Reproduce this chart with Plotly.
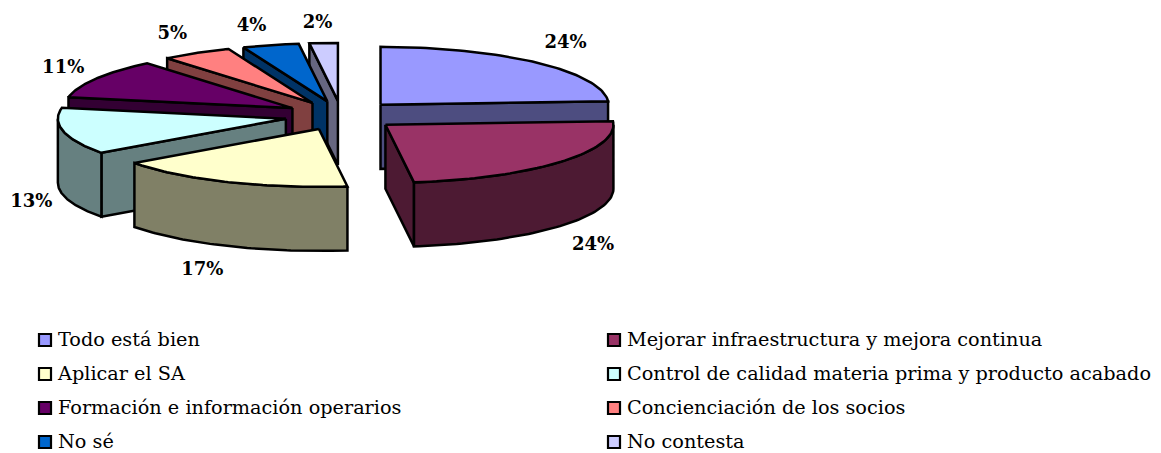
import math
import plotly.graph_objects as go

categories = ["Todo está bien", "Mejorar infraestructura y mejora continua", "Aplicar el SA",
              "Control de calidad materia prima y producto acabado", "Formación e información operarios",
              "Concienciación de los socios", "No sé", "No contesta"]
values = [24, 24, 17, 13, 11, 5, 4, 2]
top_colors = ["#9999FF", "#993366", "#FFFFCC", "#CCFFFF", "#660066", "#FF8080", "#0066CC", "#CCCCFF"]
side_colors = ["#4D4D80", "#4D1A33", "#808066", "#668080", "#330033", "#804040", "#003366", "#666680"]

# pie geometry, in page pixels
CX, CY = 341.5, 115.5
RX, RY = 228, 58
DEPTH = 64
EXP_X, EXP_Y = 57, 14.6
LABEL_OFFSET = [(29, -19), (32, 19.5), (-26, 24), (-32, 7), (-33, -10), (-24, -19), (-19, -19), (-6, -19.5)]
DRAW_ORDER = [0, 7, 6, 5, 4, 3, 2, 1]
EDGE = dict(color="black", width=2.5)
FONT = "DejaVu Serif"
LEGEND_X = [45, 614]
LEGEND_TEXT_GAP = 13
LEGEND_Y0, LEGEND_STEP = 340, 34

total = sum(values)
starts = [360 * sum(values[:i]) / total for i in range(len(values))]
ends = [360 * sum(values[:i + 1]) / total for i in range(len(values))]


def pt(ax, ay, deg, drop=0):
    t = math.radians(deg)
    return ax + RX * math.sin(t), ay - RY * math.cos(t) + drop


def arc(ax, ay, a, b, drop=0, n=60):
    return [pt(ax, ay, a + (b - a) * k / n, drop) for k in range(n + 1)]


def poly(points, color):
    xs = [p[0] for p in points] + [points[0][0]]
    ys = [p[1] for p in points] + [points[0][1]]
    return go.Scatter(x=xs, y=ys, mode="lines", fill="toself", fillcolor=color, line=EDGE,
                      showlegend=False, hoverinfo="skip")


fig = go.Figure()

label_x, label_y = [], []
apexes = []
for i in range(len(values)):
    mid = math.radians((starts[i] + ends[i]) / 2)
    apexes.append((CX + EXP_X * math.sin(mid), CY - EXP_Y * math.cos(mid)))

for i in DRAW_ORDER:
    a, b = starts[i], ends[i]
    ax, ay = apexes[i]
    # cut faces toward the viewer
    if b < 180:
        e = pt(ax, ay, b)
        fig.add_trace(poly([(ax, ay), e, (e[0], e[1] + DEPTH), (ax, ay + DEPTH)], side_colors[i]))
    if a > 180:
        e = pt(ax, ay, a)
        fig.add_trace(poly([(ax, ay), e, (e[0], e[1] + DEPTH), (ax, ay + DEPTH)], side_colors[i]))
    # outer wall
    lo, hi = max(a, 90), min(b, 270)
    if lo < hi:
        outer = arc(ax, ay, lo, hi)
        fig.add_trace(poly(outer + [(x, y + DEPTH) for x, y in reversed(outer)], side_colors[i]))
    # top
    fig.add_trace(poly([(ax, ay)] + arc(ax, ay, a, b), top_colors[i]))

for i in range(len(values)):
    m = (starts[i] + ends[i]) / 2
    x, y = pt(*apexes[i], m, DEPTH if 90 < m < 270 else 0)
    label_x.append(x + LABEL_OFFSET[i][0])
    label_y.append(y + LABEL_OFFSET[i][1])

fig.add_trace(go.Scatter(x=label_x, y=label_y, mode="text", text=[f"{v}%" for v in values],
                         textposition="middle center", showlegend=False, hoverinfo="skip",
                         textfont=dict(family=FONT, size=18, color="black", weight="bold")))

# legend: two columns of four rows
for i, (name, col) in enumerate(zip(categories, top_colors)):
    lx, ly = LEGEND_X[i % 2], LEGEND_Y0 + LEGEND_STEP * (i // 2)
    fig.add_trace(go.Scatter(x=[lx], y=[ly], mode="markers",
                             marker=dict(symbol="square", size=12, color=col, line=dict(color="black", width=2.2)),
                             showlegend=False, name=name, hoverinfo="name", cliponaxis=False))
    fig.add_trace(go.Scatter(x=[lx + LEGEND_TEXT_GAP], y=[ly + 1], mode="text", text=[name],
                             textposition="middle right",
                             textfont=dict(family=FONT, size=19.25, color="black"),
                             showlegend=False, name=name, hoverinfo="skip", cliponaxis=False))

fig.update_layout(
    width=1161, height=453, margin=dict(l=0, r=0, t=0, b=0, autoexpand=False),
    paper_bgcolor="white", plot_bgcolor="white", showlegend=False,
    xaxis=dict(range=[0, 1161], visible=False, fixedrange=True),
    yaxis=dict(range=[453, 0], visible=False, fixedrange=True),
)
fig.write_html("out.html", config=dict(displayModeBar=False),
               post_script="document.body.style.margin='0';")
